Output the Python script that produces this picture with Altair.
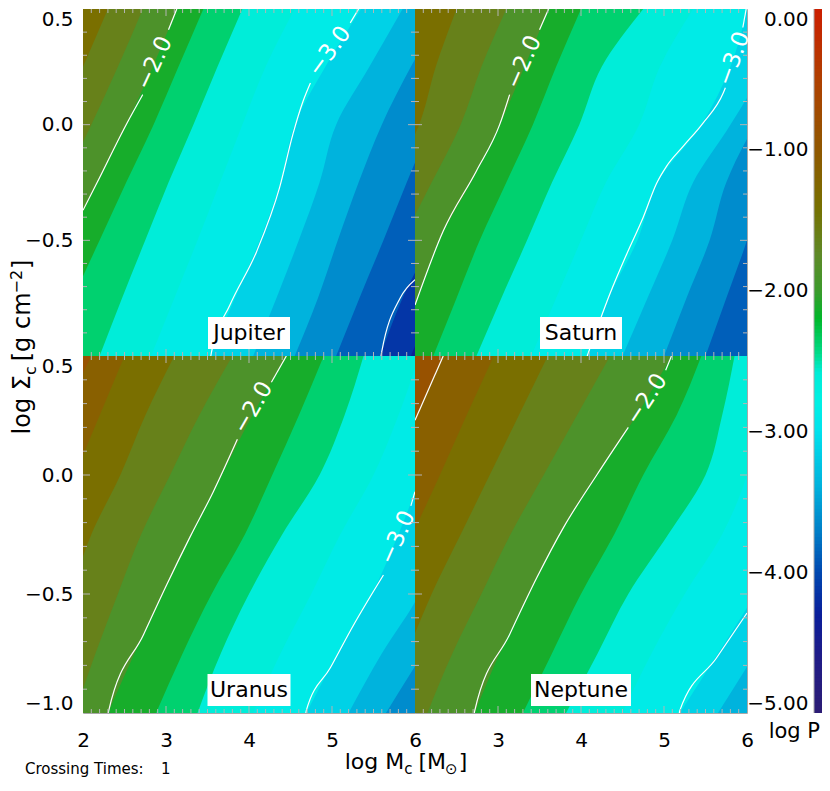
import altair as alt
import pandas as pd

FONT = "DejaVu Sans"

# ---------------- data ----------------
Y_ROWS = [-1.0, -0.75, -0.5, -0.25, 0.0, 0.25, 0.5]

# x position (log Mc) where log P crosses each level, at the rows of Y_ROWS
JUPITER_ISO = {
    -1.25: [-0.1, 0.25, 0.6, 0.95, 1.3, 1.6, 1.9],
    -1.5: [0.3, 0.65, 1.0, 1.35, 1.7, 2.0, 2.3],
    -1.75: [0.75, 1.08, 1.42, 1.76, 2.1, 2.42, 2.72],
    -2.0: [1.18, 1.5, 1.83, 2.17, 2.52, 2.84, 3.13],
    -2.25: [1.58, 1.88, 2.2, 2.52, 2.85, 3.15, 3.45],
    -2.5: [2.2, 2.47, 2.75, 3.03, 3.33, 3.62, 3.92],
    -2.75: [2.82, 3.1, 3.38, 3.65, 3.92, 4.2, 4.55],
    -3.0: [3.53, 3.83, 4.13, 4.38, 4.55, 4.92, 5.35],
    -3.25: [4.05, 4.33, 4.6, 4.85, 5.05, 5.45, 5.85],
    -3.5: [4.55, 4.83, 5.07, 5.32, 5.6, 5.95, 6.35],
    -3.75: [5.05, 5.33, 5.62, 5.9, 6.2, 6.55, 6.95],
    -4.0: [5.58, 5.85, 6.2, 6.55, 6.9, 7.25, 7.6],
    -4.25: [5.95, 6.25, 6.6, 6.95, 7.3, 7.65, 8.0],
    -4.5: [6.4, 6.7, 7.0, 7.4, 7.7, 8.1, 8.4],
}
SATURN_ISO = {
    -1.25: [0.25, 0.5, 0.8, 1.1, 1.45, 1.65, 1.9],
    -1.5: [0.8, 1.05, 1.35, 1.7, 2.05, 2.25, 2.5],
    -1.75: [1.3, 1.55, 1.85, 2.2, 2.55, 2.8, 3.1],
    -2.0: [1.77, 2.03, 2.29, 2.67, 3.02, 3.32, 3.61],
    -2.25: [2.22, 2.5, 2.78, 3.1, 3.42, 3.7, 4.0],
    -2.5: [2.74, 3.04, 3.35, 3.65, 3.98, 4.25, 4.75],
    -2.75: [3.4, 3.7, 4.0, 4.3, 4.7, 4.95, 5.35],
    -3.0: [4.07, 4.33, 4.68, 4.92, 5.45, 5.8, 6.0],
    -3.25: [4.5, 4.8, 5.1, 5.35, 5.8, 6.2, 6.4],
    -3.5: [5.0, 5.27, 5.55, 5.75, 6.1, 6.6, 6.8],
    -3.75: [5.5, 5.75, 6.0, 6.2, 6.5, 7.0, 7.2],
    -4.0: [6.0, 6.25, 6.45, 6.6, 6.9, 7.4, 7.6],
}
URANUS_ISO = {
    -1.0: [0.4, 0.6, 0.85, 1.1, 1.4, 1.75, 2.1],
    -1.25: [0.9, 1.1, 1.35, 1.6, 1.9, 2.2, 2.5],
    -1.5: [1.4, 1.6, 1.85, 2.1, 2.45, 2.75, 3.1],
    -1.75: [1.9, 2.15, 2.42, 2.7, 3.05, 3.4, 3.8],
    -2.0: [2.3, 2.62, 2.96, 3.3, 3.67, 4.04, 4.45],
    -2.25: [2.88, 3.2, 3.55, 3.95, 4.28, 4.6, 4.9],
    -2.5: [3.38, 3.66, 4.0, 4.4, 4.85, 5.15, 5.38],
    -2.75: [4.05, 4.38, 4.75, 5.1, 5.5, 5.8, 6.05],
    -3.0: [4.69, 5.07, 5.48, 5.8, 6.08, 6.38, 6.7],
    -3.25: [5.2, 5.6, 6.05, 6.3, 6.6, 6.9, 7.2],
    -3.5: [5.65, 6.1, 6.6, 6.8, 7.1, 7.4, 7.7],
    -3.75: [6.05, 6.55, 7.1, 7.4, 7.6, 7.9, 8.2],
}
NEPTUNE_ISO = {
    -0.75: [-0.1, 0.2, 0.5, 0.8, 1.1, 1.45, 1.8],
    -1.0: [0.5, 0.8, 1.1, 1.4, 1.7, 2.02, 2.34],
    -1.25: [1.05, 1.35, 1.65, 1.97, 2.3, 2.62, 2.95],
    -1.5: [1.6, 1.9, 2.2, 2.55, 2.9, 3.25, 3.6],
    -1.75: [2.15, 2.45, 2.8, 3.15, 3.55, 3.95, 4.35],
    -2.0: [2.72, 3.02, 3.37, 3.74, 4.19, 4.67, 5.09],
    -2.25: [3.3, 3.65, 4.0, 4.4, 4.75, 5.15, 5.45],
    -2.5: [3.82, 4.2, 4.57, 5.05, 5.5, 5.7, 5.85],
    -2.75: [4.5, 4.85, 5.25, 5.7, 6.0, 6.15, 6.3],
    -3.0: [5.19, 5.65, 6.1, 6.5, 6.9, 7.3, 7.7],
    -3.25: [5.65, 6.1, 6.55, 6.95, 7.35, 7.75, 8.15],
    -3.5: [6.1, 6.55, 7.0, 7.4, 7.8, 8.2, 8.6],
}

# white contour lines (segments broken where the labels sit): (x, y) points
JUPITER_LINES = {
    "m2a": [(3.13, 0.5), (3.03, 0.41)],
    "m2b": [(2.72, 0.13), (2.52, 0.0), (2.17, -0.25), (2.0, -0.37)],
    "m3a": [(5.32, 0.5), (5.22, 0.44)],
    "m3b": [(4.74, 0.18), (4.65, 0.1), (4.53, -0.04), (4.37, -0.27), (4.09, -0.55),
            (3.77, -0.78), (3.55, -0.98), (3.54, -1.0)],
    "m4": [(6.0, -0.67), (5.82, -0.75), (5.6, -0.98), (5.59, -1.0)],
}
SATURN_LINES = {
    "m2a": [(3.61, 0.5), (3.5, 0.41)],
    "m2b": [(3.14, 0.13), (3.02, 0.0), (2.74, -0.2), (2.34, -0.46), (2.0, -0.78)],
    "m3a": [(5.99, 0.5), (5.95, 0.42)],
    "m3b": [(5.74, 0.16), (5.715, 0.138), (5.47, 0.007), (5.23, -0.094), (5.03, -0.18),
            (4.91, -0.254), (4.75, -0.40), (4.55, -0.56), (4.35, -0.73), (4.075, -1.0)],
}
URANUS_LINES = {
    "m2a": [(4.45, 0.5), (4.27, 0.39)],
    "m2b": [(3.86, 0.15), (3.57, -0.07), (3.29, -0.26), (3.01, -0.46), (2.73, -0.67),
            (2.31, -0.99), (2.305, -1.0)],
    "m3a": [(6.0, -0.07), (5.95, -0.13)],
    "m3b": [(5.62, -0.42), (5.26, -0.63), (4.98, -0.81), (4.69, -0.99), (4.685, -1.0)],
}
NEPTUNE_LINES = {
    "m1": [(2.34, 0.5), (2.0, 0.23)],
    "m2a": [(5.09, 0.5), (5.02, 0.44)],
    "m2b": [(4.57, 0.2), (4.19, 0.0), (3.79, -0.22), (3.47, -0.43), (3.14, -0.67),
            (2.72, -0.99), (2.715, -1.0)],
    "m3": [(6.0, -0.58), (5.63, -0.77), (5.19, -0.99), (5.185, -1.0)],
}

# contour labels: x, y, text, rotation
JUPITER_LABELS = [(2.86, 0.266, "\u22122.0", 295), (4.97, 0.317, "\u22123.0", 306)]
SATURN_LABELS = [(3.31, 0.27, "\u22122.0", 294), (5.84, 0.285, "\u22123.0", 290)]
URANUS_LABELS = [(4.05, 0.283, "\u22122.0", 300), (5.79, -0.263, "\u22123.0", 294)]
NEPTUNE_LABELS = [(4.79, 0.318, "\u22122.0", 303)]

X_TICKS_LEFT = [2, 3, 4, 5, 6]
X_TICKS_RIGHT = [3, 4, 5, 6]
Y_TICKS_TOP = [0.5, 0.0, -0.5]
Y_TICKS_BOTTOM = [0.5, 0.0, -0.5, -1.0]
CB_TICKS_TOP = [0, -1, -2]
CB_TICKS_BOTTOM = [-3, -4, -5]

# colour bar (log P) stops
CB_STOPS = [-5.0, -4.6, -4.3, -4.0, -3.7, -3.4, -3.0, -2.8, -2.58, -2.45, -2.2,
            -2.0, -1.75, -1.4, -1.0, -0.5, 0.0]
CB_COLORS = ["#2c1c74", "#201c88", "#0a1e9a", "#0048b0", "#0080c8", "#00b0dc",
             "#00e2ec", "#00f0e4", "#00ecd6", "#00dc8c", "#00b82a", "#3c9a2c",
             "#5e8a28", "#787000", "#905800", "#b04000", "#cc1e00"]

# ---------------- layout ----------------
PW = 332
H_TOP = 347
H_BOT = 357
CB_CELL = 75      # column holding the colour bar (gap + bar)
CB_X0 = 67        # bar starts here inside that column
CB_SPLIT = -5.0 * H_TOP / (H_TOP + H_BOT)
TICK_COL = "#b4b4b4"
BORDER = "#a8a8a8"

CSCALE = alt.Scale(domain=CB_STOPS, range=CB_COLORS, interpolate="rgb", clamp=True)
XS = alt.Scale(domain=[2, 6], nice=False, zero=False)
YS = alt.Scale(domain=[-1.0, 0.5], nice=False, zero=False)

W_EM = {' ': .318, 'l': .278, 'o': .612, 'g': .635, '\u03a3': .632, 'c': .550,
        '[': .390, ']': .390, 'm': .974, 'M': .863, '\u2212': .838, '2': .636,
        '\u2299': .838}


def tw(s, fs):
    return sum(W_EM.get(ch, .6) for ch in s) * fs


def x_axis(vals):
    if not vals:
        return None
    return alt.Axis(values=vals, format="d", labelFontSize=20, labelFont=FONT,
                    labelColor="black", ticks=False, tickSize=0, domain=False,
                    grid=False, labelPadding=17, labelFlush=False,
                    labelOverlap=False, title=None)


def y_axis(vals):
    if not vals:
        return None
    return alt.Axis(values=vals, format=".1f", labelFontSize=20, labelFont=FONT,
                    labelColor="black", ticks=False, tickSize=0, domain=False,
                    grid=False, labelPadding=10, labelFlush=True,
                    labelFlushOffset=0, labelOverlap=False, title=None)


def one():
    return pd.DataFrame({"a": [0]})


def make_panel(name, iso, lines, labels, H, xvals, yvals, boxw, extra=()):
    xa = x_axis(xvals)
    ya = y_axis(yvals)

    def X(f):
        return alt.X(f, scale=XS, axis=xa, title=None)

    def Y(f):
        return alt.Y(f, scale=YS, axis=ya, title=None)

    rows = []
    for lev, xs in iso.items():
        for y, x in zip(Y_ROWS, xs):
            rows.append({"lev": lev, "y": y, "x": x, "v": lev - 0.125})
    df = pd.DataFrame(rows)
    levels = sorted(iso.keys(), reverse=True)

    layers = []
    base = alt.Chart(pd.DataFrame({"v": [levels[0] + 0.125]})).mark_rect().encode(
        x=alt.value(0), x2=alt.value(PW), y=alt.value(0), y2=alt.value(H),
        color=alt.Color("v:Q", scale=CSCALE, legend=None))
    layers.append(base)
    for lev in levels:
        layers.append(
            alt.Chart(df).transform_filter(alt.datum.lev == lev).mark_area(
                orient="horizontal", interpolate="monotone", clip=True
            ).encode(
                y=Y("y:Q"),
                x=alt.X("x:Q", scale=XS, axis=xa, title=None, stack=None),
                x2=alt.value(PW),
                color=alt.Color("v:Q", scale=CSCALE, legend=None),
            )
        )

    # contour lines
    lrows = []
    for seg, pts in lines.items():
        for (x, y) in pts:
            lrows.append({"seg": seg, "x": x, "y": y})
    ldf = pd.DataFrame(lrows)
    layers.append(
        alt.Chart(ldf).mark_line(color="white", strokeWidth=1.2, clip=True,
                                 interpolate="monotone", orient="horizontal").encode(
            x=X("x:Q"), y=Y("y:Q"), detail="seg:N", order=alt.Order("y:Q"))
    )
    tdf = pd.DataFrame([{"x": a, "y": b, "t": c, "ang": d} for (a, b, c, d) in labels])
    layers.append(
        alt.Chart(tdf).mark_text(color="white", fontSize=23, font=FONT,
                                 align="center", baseline="middle").encode(
            x=X("x:Q"), y=Y("y:Q"), text="t:N", angle=alt.Angle("ang:Q", scale=None))
    )

    # inward tick marks on all four edges
    xminor = [round(2 + 0.1 * i, 1) for i in range(1, 40) if i % 10 != 0]
    xmajor = [3, 4, 5]
    yminor = [round(-1.0 + 0.1 * i, 1) for i in range(1, 15) if i % 5 != 0]
    ymajor = [-0.5, 0.0]
    for vals, ln in ((xminor, 4), (xmajor, 7)):
        tdf2 = pd.DataFrame({"t": vals})
        layers.append(alt.Chart(tdf2).mark_rule(color=TICK_COL, strokeWidth=1).encode(
            x=X("t:Q"), y=alt.value(H), y2=alt.value(H - ln)))
        layers.append(alt.Chart(tdf2).mark_rule(color=TICK_COL, strokeWidth=1).encode(
            x=X("t:Q"), y=alt.value(0), y2=alt.value(ln)))
    for vals, ln in ((yminor, 4), (ymajor, 7)):
        tdf2 = pd.DataFrame({"t": vals})
        layers.append(alt.Chart(tdf2).mark_rule(color=TICK_COL, strokeWidth=1).encode(
            y=Y("t:Q"), x=alt.value(0), x2=alt.value(ln)))
        layers.append(alt.Chart(tdf2).mark_rule(color=TICK_COL, strokeWidth=1).encode(
            y=Y("t:Q"), x=alt.value(PW), x2=alt.value(PW - ln)))

    # planet name box
    layers.append(alt.Chart(one()).mark_rect(color="white").encode(
        x=alt.value(PW / 2 - boxw / 2), x2=alt.value(PW / 2 + boxw / 2),
        y=alt.value(H - 39), y2=alt.value(H - 7)))
    layers.append(alt.Chart(one()).mark_text(
        text=name, fontSize=22, font=FONT, color="black", align="center",
        baseline="middle").encode(x=alt.value(PW / 2), y=alt.value(H - 23)))

    layers.extend(extra)
    return alt.layer(*layers).properties(width=PW, height=H)


def text_piece(txt, fs, x, y, angle=0):
    kw = dict(text=txt, fontSize=fs, font=FONT, color="black", align="left",
              baseline="alphabetic")
    if angle:
        kw["angle"] = angle
    return alt.Chart(one()).mark_text(**kw).encode(x=alt.value(x), y=alt.value(y))


# y-axis title, rotated, composed of pieces: (text, size, shift across, extra gap after)
YT = [("log \u03a3", 24, 0, 0), ("c", 16, 6, 5), ("[g cm", 24, 0, -1),
      ("\u22122", 16, -8, 1), ("]", 24, 0, 0)]
ytot = sum(tw(t, f) + g for t, f, _, g in YT)
ystart = 338 + ytot / 2
ytitle = []
pos = 0
for t, f, perp, gap in YT:
    ytitle.append(text_piece(t, f, -53 + perp, ystart - pos, angle=270))
    pos += tw(t, f) + gap

# x-axis title composed of pieces
XT = [("log M", 22, 0, 0), ("c", 15, 5, 6), ("[M", 22, 0, -1), ("\u2299", 15, 5, 1),
      ("]", 22, 0, 0)]
xtot = sum(tw(t, f) + g for t, f, _, g in XT)
xstart = 323 - xtot / 2
xtitle = []
pos = 0
for t, f, perp, gap in XT:
    xtitle.append(text_piece(t, f, xstart + pos, H_BOT + 56 + perp))
    pos += tw(t, f) + gap
xtitle.append(text_piece("Crossing Times:", 15, -58, H_BOT + 61))
xtitle.append(text_piece("1", 15, 78, H_BOT + 61))

P1 = make_panel("Jupiter", JUPITER_ISO, JUPITER_LINES, JUPITER_LABELS, H_TOP,
                None, Y_TICKS_TOP, 82, extra=ytitle)
P2 = make_panel("Saturn", SATURN_ISO, SATURN_LINES, SATURN_LABELS, H_TOP,
                None, None, 82)
P3 = make_panel("Uranus", URANUS_ISO, URANUS_LINES, URANUS_LABELS, H_BOT,
                X_TICKS_LEFT, Y_TICKS_BOTTOM, 83, extra=xtitle)
P4 = make_panel("Neptune", NEPTUNE_ISO, NEPTUNE_LINES, NEPTUNE_LABELS, H_BOT,
                X_TICKS_RIGHT, None, 100)

# colour bar, split in two cells (one per row of panels)
cb_lo = [round(-5.0 + 0.025 * i, 4) for i in range(200)]
cbdf = pd.DataFrame({"lo": cb_lo, "hi": [min(v + 0.04, 0.0) for v in cb_lo],
                     "v": [v + 0.0125 for v in cb_lo]})


def make_cb(dom, H, ticks, title):
    ax = alt.Axis(values=ticks, format=".2f", labelFontSize=20, labelFont=FONT,
                  labelColor="black", ticks=False, tickSize=0, domain=False,
                  grid=False, labelPadding=6, labelFlush=True, labelFlushOffset=0,
                  labelOverlap=False, title=None, offset=-CB_X0)
    bar = alt.Chart(cbdf).transform_filter(
        (alt.datum.hi > dom[0]) & (alt.datum.lo < dom[1])
    ).transform_calculate(
        lo2=f"max(datum.lo, {dom[0]})", hi2=f"min(datum.hi, {dom[1]})"
    ).mark_rect().encode(
        y=alt.Y("lo2:Q", scale=alt.Scale(domain=dom, nice=False, zero=False),
                axis=ax, title=None),
        y2="hi2:Q",
        x=alt.value(CB_X0), x2=alt.value(CB_CELL),
        color=alt.Color("v:Q", scale=CSCALE, legend=None),
    )
    frame = alt.Chart(one()).mark_rule(color=BORDER, strokeWidth=1).encode(
        x=alt.value(CB_X0), y=alt.value(0), y2=alt.value(H))
    layers = [bar, frame]
    if title:
        layers.append(alt.Chart(one()).mark_text(
            text="log P", fontSize=21, font=FONT, color="black", align="right",
            baseline="alphabetic").encode(x=alt.value(CB_CELL - 2), y=alt.value(H + 25)))
    return alt.layer(*layers).properties(width=CB_CELL, height=H,
                                         view=alt.ViewBackground(stroke=None))


CBt = make_cb([CB_SPLIT, 0], H_TOP, CB_TICKS_TOP, False)
CBb = make_cb([-5, CB_SPLIT], H_BOT, CB_TICKS_BOTTOM, True)

chart = alt.concat(P1, P2, CBt, P3, P4, CBb, columns=3, spacing=0,
                   bounds="flush", align="each").properties(
    padding=0, background="white"
).configure_view(stroke=BORDER, strokeWidth=1)

chart.save("out.html", embed_options={"renderer": "svg", "actions": False})
